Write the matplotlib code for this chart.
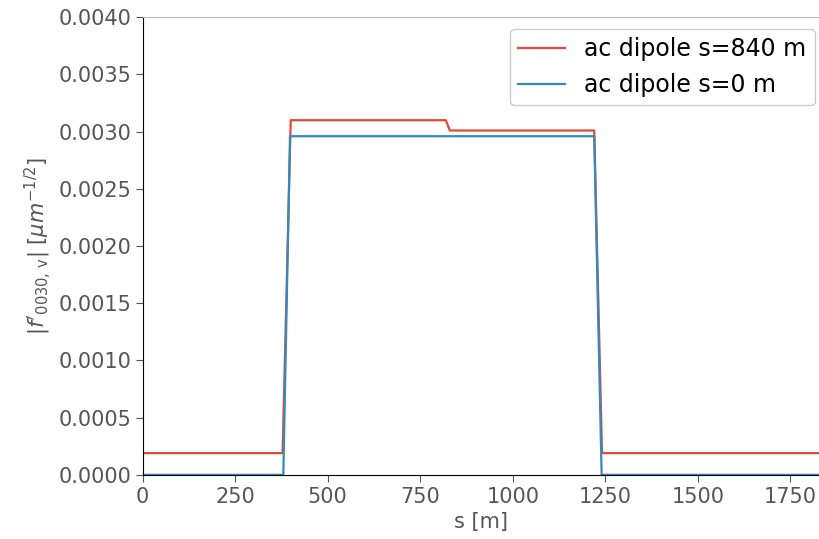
import matplotlib
matplotlib.use('Agg')
import matplotlib.pyplot as plt

# sampled driving term along the ring
s_840 = [0, 378, 400, 819, 830, 1220, 1241, 1830]
f_840 = [0.00019, 0.00019, 0.0031, 0.0031, 0.00301, 0.00301, 0.00019, 0.00019]

s_0 = [0, 380, 398, 1220, 1240, 1830]
f_0 = [0.0, 0.0, 0.00296, 0.00296, 0.0, 0.0]

xticks = [0, 250, 500, 750, 1000, 1250, 1500, 1750]
yticks = [0.0, 0.0005, 0.001, 0.0015, 0.002, 0.0025, 0.003, 0.0035, 0.004]

plt.rcParams['font.family'] = 'DejaVu Sans'
plt.rcParams['mathtext.fontset'] = 'dejavusans'

fig = plt.figure(figsize=(8.2, 5.39), dpi=100)
ax = fig.add_axes([0.174, 0.119, 0.826, 0.849])

ax.plot(s_840, f_840, color='#E24A33', lw=1.6, label='ac dipole s=840 m')
ax.plot(s_0, f_0, color='#348ABD', lw=1.6, label='ac dipole s=0 m')

ax.set_xlim(0, 1830)
ax.set_ylim(0, 0.004)
ax.set_xticks(xticks)
ax.set_yticks(yticks)
ax.set_yticklabels([f'{v:.4f}' for v in yticks])

ax.set_xlabel('s [m]', fontsize=15, color='#555555', labelpad=4)
ax.set_ylabel(r"$|f'_{\rm 0030,\,v}|\ [\mu m^{-1/2}]$", fontsize=15, color='#555555')

ax.tick_params(axis='both', labelsize=15, colors='#555555', length=5, direction='out')
ax.tick_params(axis='y', pad=3)
ax.tick_params(axis='x', top=False)
ax.tick_params(axis='y', right=False)
for side in ['top', 'right']:
    ax.spines[side].set_color('#bbbbbb')
for side in ['left', 'bottom']:
    ax.spines[side].set_color('black')

leg = ax.legend(loc='upper right', bbox_to_anchor=(0.992, 0.974), borderaxespad=0,
                fontsize=17, framealpha=1, edgecolor='#cccccc', borderpad=0.35)

fig.savefig('out.png', dpi=100)
